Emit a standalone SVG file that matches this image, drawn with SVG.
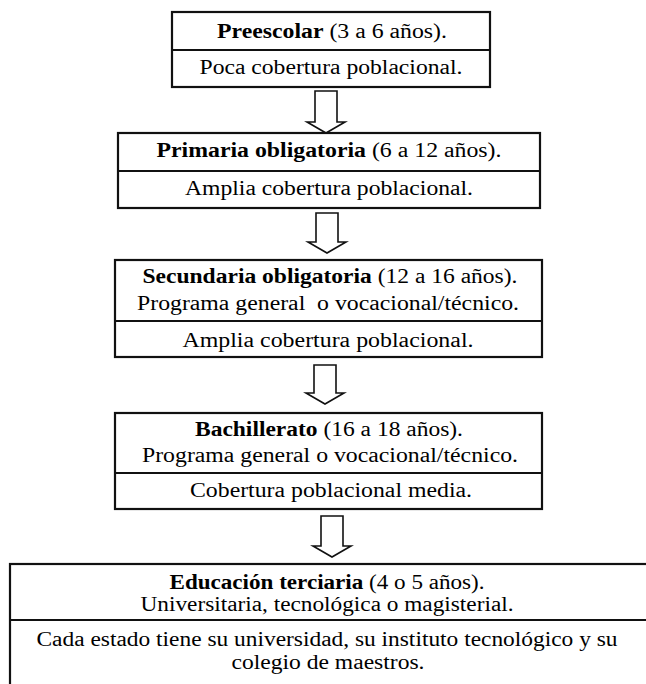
<svg xmlns="http://www.w3.org/2000/svg" width="646" height="684" viewBox="0 0 646 684">
<style>
.box{fill:#fff;stroke:#111;stroke-width:2.2}
.sep{stroke:#111;stroke-width:2}
.t{font-family:"Liberation Serif","Times New Roman",serif;font-size:20.5px;fill:#000;text-anchor:middle}
.b{font-weight:bold}
.arr{fill:#fff;stroke:#111;stroke-width:1.6;stroke-linejoin:miter}
</style>
<rect width="646" height="684" fill="#fff"/>
<g id="connectors">
<path class="arr" d="M315,91 H337 V122 H345 L326,133 L307,122 H315 Z"/>
<path class="arr" d="M316,213 H338 V242 H346 L327,253 L308,242 H316 Z"/>
<path class="arr" d="M314,365 H336 V393 H344 L325,404 L306,393 H314 Z"/>
<path class="arr" d="M321,516 H343 V546 H351 L332,557 L313,546 H321 Z"/>
</g>
<g id="preescolar">
<rect class="box" x="172" y="12" width="318" height="75"/>
<line class="sep" x1="172" y1="50" x2="490" y2="50"/>
<text class="t" x="332" y="38" textLength="230" lengthAdjust="spacingAndGlyphs"><tspan class="b">Preescolar</tspan> (3 a 6 años).</text>
<text class="t" x="331" y="74" textLength="263" lengthAdjust="spacingAndGlyphs">Poca cobertura poblacional.</text>
</g>
<g id="primaria">
<rect class="box" x="118" y="133" width="422" height="75"/>
<line class="sep" x1="118" y1="171" x2="540" y2="171"/>
<text class="t" x="329" y="157" textLength="345" lengthAdjust="spacingAndGlyphs"><tspan class="b">Primaria obligatoria</tspan> (6 a 12 años).</text>
<text class="t" x="329" y="195" textLength="288" lengthAdjust="spacingAndGlyphs">Amplia cobertura poblacional.</text>
</g>
<g id="secundaria">
<rect class="box" x="115" y="260" width="427" height="97"/>
<line class="sep" x1="115" y1="321" x2="542" y2="321"/>
<text class="t" x="330" y="283" textLength="375" lengthAdjust="spacingAndGlyphs"><tspan class="b">Secundaria obligatoria</tspan> (12 a 16 años).</text>
<text class="t" x="328" y="310" xml:space="preserve" textLength="382" lengthAdjust="spacingAndGlyphs">Programa general  o vocacional/técnico.</text>
<text class="t" x="328" y="347" textLength="291" lengthAdjust="spacingAndGlyphs">Amplia cobertura poblacional.</text>
</g>
<g id="bachillerato">
<rect class="box" x="115" y="413" width="427" height="96"/>
<line class="sep" x1="115" y1="473" x2="542" y2="473"/>
<text class="t" x="329" y="436" textLength="268" lengthAdjust="spacingAndGlyphs"><tspan class="b">Bachillerato</tspan> (16 a 18 años).</text>
<text class="t" x="330" y="462" textLength="376" lengthAdjust="spacingAndGlyphs">Programa general o vocacional/técnico.</text>
<text class="t" x="331" y="497" textLength="282" lengthAdjust="spacingAndGlyphs">Cobertura poblacional media.</text>
</g>
<g id="terciaria">
<rect class="box" x="10" y="564" width="650" height="140"/>
<line class="sep" x1="10" y1="620" x2="660" y2="620"/>
<text class="t" x="327" y="589" textLength="315" lengthAdjust="spacingAndGlyphs"><tspan class="b">Educación terciaria</tspan> (4 o 5 años).</text>
<text class="t" x="327" y="611" textLength="373" lengthAdjust="spacingAndGlyphs">Universitaria, tecnológica o magisterial.</text>
<text class="t" x="327" y="646" textLength="581" lengthAdjust="spacingAndGlyphs">Cada estado tiene su universidad, su instituto tecnológico y su</text>
<text class="t" x="328" y="669" textLength="193" lengthAdjust="spacingAndGlyphs">colegio de maestros.</text>
</g>
</svg>
